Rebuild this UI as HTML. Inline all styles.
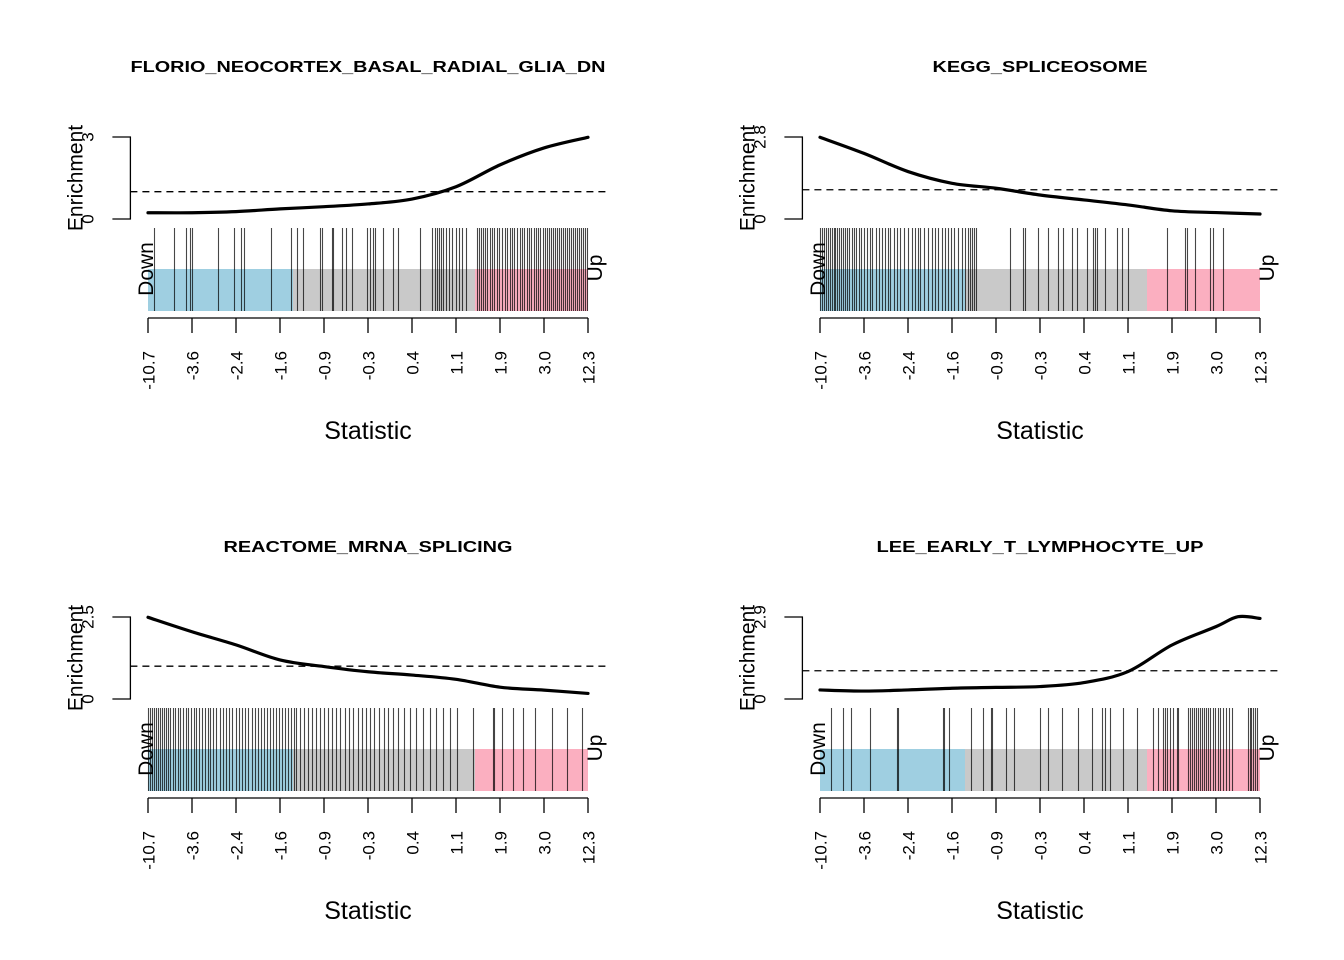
<!DOCTYPE html>
<html><head><meta charset="utf-8"><style>
body{margin:0;background:#fff;}
svg{display:block;font-family:"Liberation Sans",Arial,sans-serif;}
</style></head><body>
<svg id="chart" width="1344" height="960" viewBox="0 0 1344 960" xmlns="http://www.w3.org/2000/svg"></svg>
<script>
// ---- data ----
const tickLabels = ["-10.7","-3.6","-2.4","-1.6","-0.9","-0.3","0.4","1.1","1.9","3.0","12.3"];
const nGenes = 440;
const titles = ["FLORIO_NEOCORTEX_BASAL_RADIAL_GLIA_DN","KEGG_SPLICEOSOME","REACTOME_MRNA_SPLICING","LEE_EARLY_T_LYMPHOCYTE_UP"];
const titleWidths = [475, 215, 289, 327];
const yMax = [3, 2.8, 2.5, 2.9];
const yMaxLabels = ["3","2.8","2.5","2.9"];
const downEnd = 145, upStart = 327;
const bars1 = [6,26,38,42,44,70,86,93,96,123,143,149,155,172,174,184,185,194,198,204,219,222,225,227,235,245,250,272,284,287,289,291,293,295,298,301,304,308,311,314,318,329,331,333,335,337,339,342,344,346,349,351,354,357,359,362,364,366,369,372,374,376,379,381,383,386,388,390,392,395,397,399,401,403,405,407,409,411,413,415,417,419,421,423,425,427,429,431,433,435,437,439];
const bars2 = [0,2,4,6,8,10,12,14,15,17,19,21,23,25,27,29,32,34,36,39,41,44,47,50,52,56,59,62,65,68,70,74,77,80,84,88,92,95,98,100,104,108,112,115,118,122,125,128,131,134,138,142,145,148,150,152,154,156,190,203,205,218,228,238,243,252,257,267,273,275,277,285,297,302,308,347,365,367,375,390,393,403];
const bars3 = [0,2,4,6,8,10,12,14,16,18,20,22,25,27,30,32,35,38,40,43,46,48,51,54,57,60,62,65,68,72,75,78,81,84,88,91,94,97,100,104,107,110,113,116,119,122,125,128,131,134,137,140,143,146,148,152,156,160,164,168,172,176,180,184,188,192,197,201,205,210,214,218,222,226,231,236,240,245,250,256,262,268,275,282,288,295,302,309,325,345,346,354,365,375,387,404,419,434];
const bars4 = [11,23,31,50,77,78,123,124,129,151,163,171,172,186,194,220,228,242,258,272,282,285,290,303,317,333,338,343,345,347,350,353,357,358,368,370,372,374,376,378,380,382,384,386,388,390,393,395,398,400,403,406,409,412,428,430,431,433,435,437];
const curveRanks1 = [0,44,88,132,176,220,264,308,352,396,440];
const curveVals1 = [0.23,0.23,0.27,0.37,0.45,0.55,0.73,1.18,1.98,2.6,2.99];
const curveRanks2 = [0,44,88,132,176,220,264,308,352,396,440];
const curveVals2 = [2.79,2.24,1.62,1.22,1.05,0.82,0.65,0.48,0.28,0.22,0.17];
const curveRanks3 = [0,44,88,132,176,220,264,308,352,396,440];
const curveVals3 = [2.49,2.05,1.65,1.19,0.99,0.83,0.73,0.6,0.36,0.27,0.17];
const curveRanks4 = [0,44,88,132,176,220,264,308,352,396,418,440];
const curveVals4 = [0.32,0.28,0.32,0.38,0.41,0.44,0.58,0.97,1.91,2.56,2.91,2.85];

const barsAll=[bars1,bars2,bars3,bars4];
const cR=[curveRanks1,curveRanks2,curveRanks3,curveRanks4];
const cV=[curveVals1,curveVals2,curveVals3,curveVals4];
const svg=document.getElementById('chart');
const NS="http://www.w3.org/2000/svg";
function mk(tag,attrs,parent){const e=document.createElementNS(NS,tag);for(const k in attrs)e.setAttribute(k,attrs[k]);(parent||svg).appendChild(e);return e;}

for(let p=0;p<4;p++){
  const L=p%2?820:148, W=440, oy=p>=2?480:0;
  const g=mk('g',{});
  
  
  const xS=r=>L+r/nGenes*W;
  const yTop=137+oy, yBot=219+oy;
  const yS=v=>yBot-v/yMax[p]*(yBot-yTop);
  const t=mk('text',{x:L+W/2,y:72+oy,'text-anchor':'middle','font-size':16,'font-weight':'bold',textLength:titleWidths[p],lengthAdjust:'spacingAndGlyphs'},g);
  t.textContent=titles[p];
  
  
  const rects=[[0,downEnd,'#9fcfe1','down-region'],[downEnd,upStart,'#c9c9c9','middle-region'],[upStart,nGenes,'#fbafc0','up-region']];
  rects.forEach(r=>{const e=mk('rect',{x:xS(r[0]),y:269+oy,width:xS(r[1])-xS(r[0]),height:42,fill:r[2]},g);
    
    });
  barsAll[p].forEach(b=>{const e=mk('line',{x1:xS(b)+0.5,x2:xS(b)+0.5,y1:228+oy,y2:311+oy,stroke:'#000','stroke-opacity':0.72,'stroke-width':1.1},g);
    
    });
  const dn=mk('text',{transform:`translate(${L+5},${269+oy}) rotate(-90)`,'text-anchor':'middle','font-size':21},g);
  dn.textContent='Down';
  
  
  const up=mk('text',{transform:`translate(${L+W+14},${268+oy}) rotate(-90)`,'text-anchor':'middle','font-size':21},g);
  up.textContent='Up';
  
  
  const ax=mk('line',{x1:L,x2:L+W,y1:318+oy,y2:318+oy,stroke:'#000','stroke-width':1.3},g);
  
  
  tickLabels.forEach((lab,i)=>{const xr=i*nGenes/(tickLabels.length-1);const x=xS(xr);
    const tk=mk('line',{x1:x,x2:x,y1:318+oy,y2:333+oy,stroke:'#000','stroke-width':1.3},g);
    
    
    const tl=mk('text',{transform:`translate(${x+6.5},${351+oy}) rotate(-90)`,'text-anchor':'end','font-size':17},g);
    tl.textContent=lab;
    
    });
  const xt=mk('text',{x:L+W/2,y:439+oy,'text-anchor':'middle','font-size':25},g);
  xt.textContent='Statistic';
  
  
  const axL=L-17.6;
  mk('path',{d:`M${axL-18},${yTop}H${axL}V${yBot}H${axL-18}`,fill:'none',stroke:'#000','stroke-width':1.3},g);
  [[yBot,'0'],[yTop,yMaxLabels[p]]].forEach(v=>{const e=mk('text',{transform:`translate(${axL-37},${v[0]}) rotate(-90)`,'text-anchor':'middle','font-size':17},g);
    e.textContent=v[1];
    
    });
  const yt=mk('text',{transform:`translate(${axL-48},${(yTop+yBot)/2}) rotate(-90)`,'text-anchor':'middle','font-size':21},g);
  yt.textContent='Enrichment';
  
  
  const dl=mk('line',{x1:axL,x2:L+W+17.6,y1:yS(1),y2:yS(1),stroke:'#000','stroke-width':1.3,'stroke-dasharray':'7,5'},g);
  
  
  const pts=cR[p].map((r,i)=>[xS(r),yS(cV[p][i])]);
  let d=`M${pts[0][0]},${pts[0][1]}`;
  for(let i=0;i<pts.length-1;i++){const p0=pts[Math.max(0,i-1)],p1=pts[i],p2=pts[i+1],p3=pts[Math.min(pts.length-1,i+2)];
    d+=` C${p1[0]+(p2[0]-p0[0])/6},${p1[1]+(p2[1]-p0[1])/6} ${p2[0]-(p3[0]-p1[0])/6},${p2[1]-(p3[1]-p1[1])/6} ${p2[0]},${p2[1]}`;}
  const cv=mk('path',{d:d,fill:'none',stroke:'#000','stroke-width':3.2,'stroke-linecap':'round'},g);
  
  
}
</script>
</body></html>
